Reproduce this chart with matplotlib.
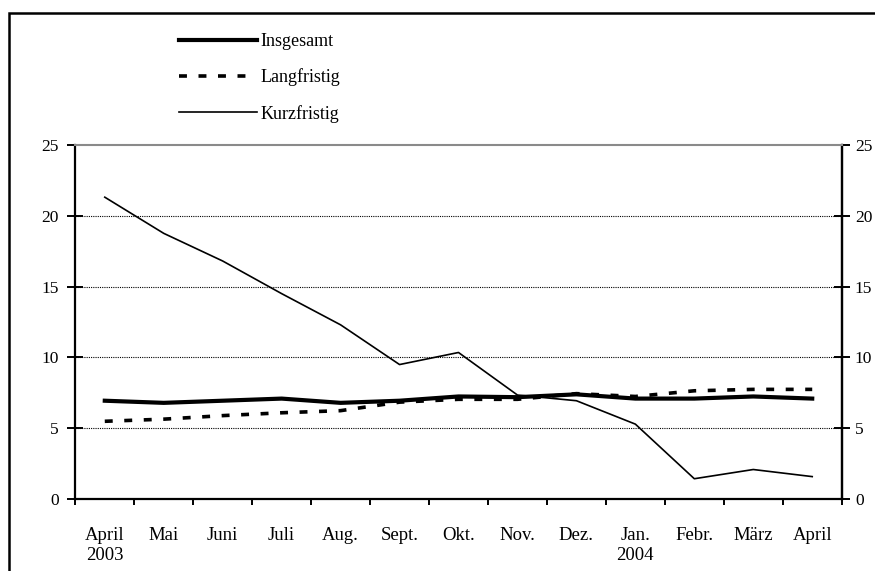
import matplotlib
matplotlib.use("Agg")
import matplotlib.pyplot as plt
from matplotlib.patches import Rectangle

plt.rcParams['font.family'] = ['Liberation Serif', 'DejaVu Serif']

months = ["April\n2003", "Mai", "Juni", "Juli", "Aug.", "Sept.", "Okt.", "Nov.",
          "Dez.", "Jan.\n2004", "Febr.", "März", "April"]
insgesamt = [6.95, 6.8, 6.95, 7.1, 6.8, 6.95, 7.25, 7.2, 7.4, 7.1, 7.1, 7.25, 7.1]
langfristig = [5.5, 5.65, 5.9, 6.1, 6.25, 6.85, 7.05, 7.05, 7.45, 7.25, 7.65, 7.75, 7.75]
kurzfristig = [21.3, 18.75, 16.8, 14.5, 12.3, 9.5, 10.35, 7.35, 6.95, 5.3, 1.45, 2.1, 1.6]
yticks = [0, 5, 10, 15, 20, 25]

W, H = 875, 571
fig = plt.figure(figsize=(W / 100, H / 100), dpi=100)
ax = fig.add_axes([75.3 / W, 1 - 499.3 / H, (841.7 - 75.3) / W, (499.3 - 144.7) / H])

x = list(range(len(months)))
l1, = ax.plot(x, insgesamt, color='black', lw=3.0, solid_joinstyle='round', label='Insgesamt', zorder=4)
l2, = ax.plot(x, langfristig, color='black', lw=2.6, linestyle=(0, (2.2, 3.2)), label='Langfristig', zorder=3)
l3, = ax.plot(x, kurzfristig, color='black', lw=1.2, label='Kurzfristig', zorder=5)

ax.set_xlim(-0.5, len(months) - 0.5)
ax.set_ylim(0, 25)

# gridlines
for v in yticks[1:-1]:
    ax.axhline(v, color='black', lw=0.8, linestyle=(0, (1, 1)), zorder=1)

# spines
for s in ['left', 'right', 'bottom']:
    ax.spines[s].set_linewidth(1.6)
    ax.spines[s].set_color('black')
ax.spines['top'].set_color('#8a8a8a')
ax.spines['top'].set_linewidth(1.5)

# left y ticks
ax.set_yticks(yticks)
ax.tick_params(axis='y', which='major', direction='inout', length=11, width=1.4,
               labelsize=12.5, pad=6.5, left=True, right=False, labelleft=True, labelright=False)
ax.tick_params(axis='y', which='minor', left=False, right=False)

# right y axis (same scale)
sec = ax.secondary_yaxis('right')
sec.set_yticks(yticks)
sec.spines['right'].set_linewidth(1.6)
sec.tick_params(axis='y', which='major', direction='inout', length=11, width=1.4,
                labelsize=12.5, pad=4)
sec.tick_params(axis='y', which='minor', right=False)

# x ticks: boundaries (major, no labels), labels at centers (minor)
ax.set_xticks([i - 0.5 for i in range(len(months) + 1)])
ax.set_xticklabels([])
ax.set_xticks(x, minor=True)
ax.set_xticklabels(months, minor=True, fontsize=13.5, linespacing=1.25)
ax.tick_params(axis='x', which='major', direction='out', length=4, width=1.4)
ax.tick_params(axis='x', which='minor', length=0, pad=20)
for lab in ax.get_xticklabels(minor=True):
    lab.set_verticalalignment('top')
    lab.set_horizontalalignment('center')

# legend
fig.legend(handles=[l1, l2, l3], loc='upper left', bbox_to_anchor=(179 / W, 1 - 33 / H),
           frameon=False, fontsize=13, handlelength=4.3, handletextpad=0.2,
           labelspacing=1.02, borderaxespad=0, borderpad=0)

# outer frame
fig.patches.append(Rectangle((8.5 / W, -0.1), 1.2, 1.1 - 12.5 / H,
                             transform=fig.transFigure, fill=False, edgecolor='black',
                             lw=1.8, zorder=10))

fig.savefig('out.png', dpi=100)
